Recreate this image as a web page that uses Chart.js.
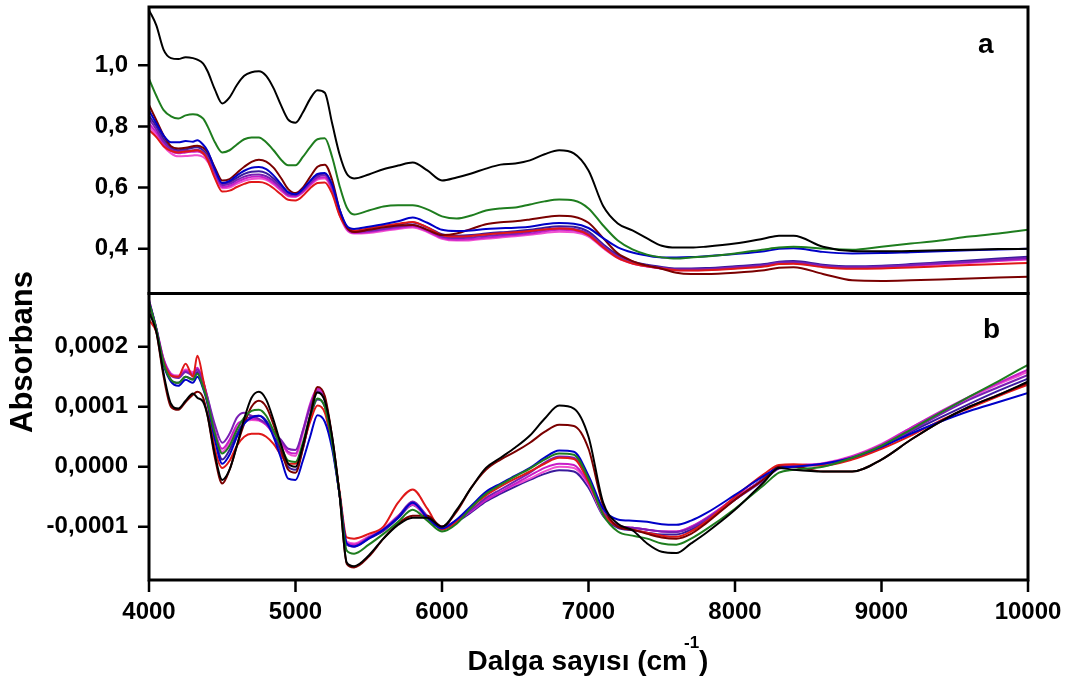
<!DOCTYPE html>
<html>
<head>
<meta charset="utf-8">
<script src="https://cdn.jsdelivr.net/npm/chart.js@4.4.1/dist/chart.umd.min.js"></script>
<style>
  body { margin: 0; background: #fff; }
</style>
</head>
<body>
<canvas id="spectra" width="1068" height="682"></canvas>
<script>
var wavenumbers = [
  4000, 4050, 4100, 4150, 4200, 4250, 4300, 4330, 4370,
  4400, 4450, 4500, 4550, 4600, 4650, 4700, 4750, 4800, 4850, 4900, 4950, 5000, 5050, 5100, 5150, 5200, 5250, 5300, 5350, 5400,
  5500, 5600, 5700, 5800, 5900, 6000, 6100, 6200, 6300, 6400, 6500, 6600,
  6700, 6800, 6900, 7000, 7100, 7200, 7300, 7400, 7500, 7600, 7700, 7800,
  8000, 8200, 8300, 8400, 8600, 8800, 9000, 9200, 9400, 9600, 9800, 10000
];

// panel a - absorbance spectra
var blackA = [
  1.18, 1.13, 1.05, 1.023, 1.02, 1.026, 1.023, 1.018, 1.005,
  0.98, 0.92, 0.875, 0.895, 0.935, 0.965, 0.977, 0.98, 0.965, 0.925, 0.87, 0.822, 0.812, 0.845, 0.89, 0.918, 0.91, 0.81, 0.71, 0.645, 0.63,
  0.643, 0.66, 0.672, 0.682, 0.656, 0.623, 0.633, 0.646, 0.662, 0.675, 0.679, 0.689,
  0.709, 0.722, 0.712, 0.656, 0.54, 0.483, 0.46, 0.434, 0.41, 0.404, 0.404, 0.407,
  0.417, 0.434, 0.443, 0.443, 0.407, 0.393, 0.392, 0.393, 0.395, 0.397, 0.399, 0.40
];
var greenA = [
  0.955, 0.90, 0.853, 0.833, 0.826, 0.836, 0.84, 0.838, 0.825,
  0.80, 0.748, 0.715, 0.722, 0.741, 0.758, 0.764, 0.764, 0.748, 0.722, 0.692, 0.673, 0.673, 0.70, 0.732, 0.758, 0.761, 0.70, 0.607, 0.535, 0.512,
  0.525, 0.538, 0.542, 0.542, 0.529, 0.506, 0.499, 0.509, 0.525, 0.532, 0.535, 0.545,
  0.555, 0.561, 0.558, 0.532, 0.476, 0.427, 0.398, 0.381, 0.372, 0.368, 0.372, 0.375,
  0.385, 0.398, 0.404, 0.407, 0.401, 0.397, 0.407, 0.417, 0.427, 0.44, 0.45, 0.462
];
var blueA = [
  0.852, 0.81, 0.77, 0.748, 0.748, 0.752, 0.75, 0.755, 0.74,
  0.72, 0.66, 0.615, 0.622, 0.64, 0.655, 0.665, 0.667, 0.66, 0.64, 0.612, 0.585, 0.578, 0.595, 0.622, 0.645, 0.648, 0.61, 0.53, 0.475, 0.465,
  0.472, 0.48, 0.49, 0.502, 0.485, 0.462, 0.458, 0.46, 0.465, 0.467, 0.469, 0.472,
  0.48, 0.484, 0.482, 0.468, 0.435, 0.405, 0.388, 0.378, 0.372, 0.372, 0.373, 0.376,
  0.383, 0.392, 0.40, 0.402, 0.39, 0.385, 0.386, 0.389, 0.392, 0.395, 0.398, 0.40
];
var maroonA = [
  0.87, 0.82, 0.77, 0.735, 0.728, 0.73, 0.735, 0.737, 0.73,
  0.715, 0.665, 0.623, 0.628, 0.648, 0.668, 0.684, 0.691, 0.685, 0.665, 0.632, 0.595, 0.582, 0.60, 0.635, 0.668, 0.675, 0.625, 0.53, 0.47, 0.455,
  0.462, 0.47, 0.476, 0.478, 0.462, 0.445, 0.45, 0.465, 0.48, 0.487, 0.49, 0.496,
  0.503, 0.508, 0.505, 0.485, 0.435, 0.385, 0.36, 0.345, 0.335, 0.322, 0.318, 0.318,
  0.322, 0.33, 0.338, 0.34, 0.318, 0.297, 0.295, 0.297, 0.30, 0.303, 0.306, 0.309
];
var redA = [
  0.788, 0.765, 0.735, 0.72, 0.715, 0.718, 0.72, 0.722, 0.712,
  0.69, 0.63, 0.587, 0.59, 0.602, 0.612, 0.618, 0.618, 0.613, 0.598, 0.578, 0.56, 0.558, 0.573, 0.598, 0.615, 0.617, 0.58, 0.51, 0.47, 0.46,
  0.467, 0.475, 0.482, 0.488, 0.47, 0.445, 0.44, 0.442, 0.447, 0.451, 0.454, 0.458,
  0.463, 0.466, 0.463, 0.445, 0.405, 0.37, 0.352, 0.343, 0.336, 0.33, 0.329, 0.33,
  0.335, 0.342, 0.35, 0.351, 0.34, 0.335, 0.336, 0.339, 0.343, 0.347, 0.35, 0.354
];
var purpleA = [
  0.825, 0.79, 0.75, 0.725, 0.718, 0.72, 0.722, 0.724, 0.715,
  0.70, 0.65, 0.608, 0.612, 0.625, 0.636, 0.642, 0.643, 0.637, 0.622, 0.60, 0.578, 0.575, 0.59, 0.615, 0.635, 0.64, 0.60, 0.52, 0.47, 0.455,
  0.458, 0.465, 0.472, 0.478, 0.462, 0.44, 0.435, 0.437, 0.442, 0.446, 0.449, 0.455,
  0.462, 0.467, 0.465, 0.45, 0.41, 0.375, 0.355, 0.345, 0.338, 0.333, 0.333, 0.334,
  0.34, 0.347, 0.355, 0.356, 0.345, 0.34, 0.342, 0.347, 0.353, 0.358, 0.364, 0.37
];
var magentaA = [
  0.81, 0.78, 0.742, 0.72, 0.712, 0.715, 0.717, 0.718, 0.71,
  0.695, 0.645, 0.602, 0.606, 0.618, 0.629, 0.635, 0.636, 0.63, 0.615, 0.594, 0.574, 0.571, 0.586, 0.61, 0.63, 0.634, 0.595, 0.515, 0.465, 0.452,
  0.455, 0.462, 0.468, 0.474, 0.458, 0.436, 0.43, 0.432, 0.437, 0.441, 0.445, 0.45,
  0.457, 0.462, 0.46, 0.445, 0.405, 0.372, 0.353, 0.343, 0.336, 0.331, 0.331, 0.332,
  0.338, 0.345, 0.353, 0.354, 0.343, 0.338, 0.34, 0.345, 0.351, 0.356, 0.362, 0.367
];
var pinkA = [
  0.80, 0.77, 0.735, 0.712, 0.702, 0.703, 0.705, 0.706, 0.70,
  0.685, 0.64, 0.598, 0.60, 0.612, 0.622, 0.628, 0.63, 0.625, 0.61, 0.59, 0.572, 0.57, 0.584, 0.607, 0.626, 0.63, 0.59, 0.512, 0.462, 0.45,
  0.452, 0.458, 0.465, 0.47, 0.455, 0.433, 0.427, 0.428, 0.433, 0.437, 0.441, 0.446,
  0.452, 0.456, 0.454, 0.44, 0.402, 0.37, 0.352, 0.342, 0.335, 0.33, 0.33, 0.331,
  0.337, 0.344, 0.352, 0.353, 0.342, 0.337, 0.339, 0.344, 0.349, 0.354, 0.36, 0.365
];
var navyA = [
  0.835, 0.80, 0.758, 0.73, 0.722, 0.725, 0.73, 0.732, 0.722,
  0.705, 0.655, 0.612, 0.617, 0.632, 0.645, 0.652, 0.653, 0.647, 0.63, 0.605, 0.582, 0.577, 0.592, 0.618, 0.64, 0.645, 0.605, 0.525, 0.472, 0.458,
  0.462, 0.47, 0.478, 0.486, 0.47, 0.448, 0.443, 0.445, 0.45, 0.454, 0.457, 0.462,
  0.469, 0.474, 0.472, 0.456, 0.415, 0.38, 0.359, 0.348, 0.341, 0.336, 0.336, 0.337,
  0.343, 0.35, 0.358, 0.36, 0.348, 0.343, 0.345, 0.35, 0.356, 0.362, 0.368, 0.374
];

// panel b - derivative spectra, values in units of 1e-4
var blackB = [
  2.58, 2.25, 1.55, 1.05, 0.97, 1.1, 1.22, 1.15, 1.08,
  0.85, 0.2, -0.22, -0.05, 0.35, 0.8, 1.15, 1.25, 1.12, 0.78, 0.38, 0.05, 0.0, 0.35, 0.85, 1.24, 1.1, 0.5, -0.45, -1.6, -1.66,
  -1.48, -1.2, -0.97, -0.85, -0.85, -1.0, -0.72, -0.35, -0.02, 0.15, 0.32, 0.52,
  0.8, 1.02, 0.97, 0.5, -0.6, -0.95, -1.06, -1.28, -1.42, -1.44, -1.28, -1.11,
  -0.72, -0.25, -0.02, -0.05, -0.08, -0.08, 0.12, 0.45, 0.75, 1.0, 1.2, 1.42
];
var greenB = [
  2.75, 2.3, 1.72, 1.45, 1.4, 1.5, 1.45, 1.55, 1.32,
  1.08, 0.55, 0.22, 0.35, 0.62, 0.82, 0.93, 0.95, 0.85, 0.6, 0.35, 0.1, 0.08, 0.4, 0.85, 1.14, 1.0, 0.4, -0.45, -1.4, -1.45,
  -1.3, -1.12, -0.92, -0.72, -0.9, -1.08, -0.95, -0.68, -0.45, -0.3, -0.16, -0.03,
  0.12, 0.22, 0.2, -0.2, -0.8, -1.08, -1.15, -1.2, -1.28, -1.3, -1.2, -1.05,
  -0.7, -0.3, -0.1, -0.05, 0.0, 0.15, 0.35, 0.62, 0.9, 1.17, 1.43, 1.7
];
var blueB = [
  2.75, 2.3, 1.7, 1.42, 1.35, 1.45, 1.4, 1.5, 1.3,
  1.05, 0.45, 0.05, 0.2, 0.5, 0.72, 0.82, 0.85, 0.75, 0.5, 0.15, -0.2, -0.22, 0.1, 0.5, 0.86, 0.75, 0.3, -0.45, -1.28, -1.33,
  -1.2, -1.05, -0.85, -0.6, -0.85, -1.03, -0.88, -0.65, -0.42, -0.28, -0.15, -0.02,
  0.15, 0.27, 0.25, -0.15, -0.7, -0.88, -0.9, -0.92, -0.96, -0.97, -0.9, -0.78,
  -0.47, -0.15, -0.02, 0.0, 0.05, 0.15, 0.33, 0.55, 0.75, 0.93, 1.08, 1.23
];
var maroonB = [
  2.72, 2.25, 1.5, 1.0, 0.95, 1.08, 1.2, 1.25, 1.15,
  0.85, 0.15, -0.28, -0.05, 0.35, 0.72, 1.0, 1.1, 1.0, 0.7, 0.3, -0.05, -0.1, 0.3, 0.85, 1.33, 1.18, 0.5, -0.45, -1.62, -1.68,
  -1.5, -1.2, -0.95, -0.82, -0.82, -1.0, -0.75, -0.35, -0.05, 0.12, 0.25, 0.4,
  0.58, 0.7, 0.68, 0.3, -0.65, -1.0, -1.05, -1.12, -1.18, -1.2, -1.12, -0.95,
  -0.55, -0.2, 0.0, 0.0, -0.08, -0.08, 0.12, 0.45, 0.75, 1.0, 1.2, 1.4
];
var redB = [
  2.45, 2.25, 1.75, 1.52, 1.5, 1.72, 1.5, 1.85, 1.45,
  1.05, 0.3, -0.02, 0.1, 0.35, 0.5, 0.55, 0.55, 0.5, 0.38, 0.2, 0.05, 0.05, 0.35, 0.75, 1.02, 0.9, 0.35, -0.4, -1.18, -1.2,
  -1.12, -1.0, -0.6, -0.38, -0.7, -1.05, -0.92, -0.68, -0.48, -0.33, -0.2, -0.08,
  0.05, 0.15, 0.13, -0.25, -0.78, -1.0, -1.05, -1.1, -1.15, -1.17, -1.08, -0.92,
  -0.5, -0.12, 0.03, 0.04, 0.02, 0.12, 0.3, 0.52, 0.77, 0.98, 1.18, 1.37
];
var purpleB = [
  2.78, 2.3, 1.78, 1.52, 1.48, 1.58, 1.52, 1.62, 1.4,
  1.15, 0.7, 0.4, 0.55, 0.82, 0.9, 0.85, 0.8, 0.72, 0.58, 0.45, 0.3, 0.28, 0.6, 1.0, 1.26, 1.1, 0.45, -0.45, -1.3, -1.33,
  -1.18, -1.05, -0.83, -0.58, -0.82, -1.0, -0.9, -0.72, -0.52, -0.38, -0.24, -0.1,
  0.07, 0.17, 0.15, -0.22, -0.75, -0.98, -1.02, -1.05, -1.08, -1.09, -1.02, -0.88,
  -0.55, -0.22, -0.03, 0.0, 0.04, 0.15, 0.33, 0.6, 0.87, 1.12, 1.33, 1.53
];
var magentaB = [
  2.78, 2.32, 1.8, 1.55, 1.5, 1.6, 1.55, 1.65, 1.42,
  1.15, 0.6, 0.3, 0.45, 0.7, 0.78, 0.8, 0.78, 0.7, 0.55, 0.42, 0.25, 0.22, 0.6, 1.05, 1.3, 1.15, 0.45, -0.45, -1.28, -1.3,
  -1.18, -1.05, -0.83, -0.62, -0.85, -1.0, -0.9, -0.74, -0.56, -0.42, -0.28, -0.15,
  -0.02, 0.05, 0.03, -0.28, -0.78, -0.98, -1.02, -1.05, -1.08, -1.08, -1.0, -0.86,
  -0.52, -0.2, -0.02, 0.02, 0.05, 0.17, 0.37, 0.65, 0.92, 1.17, 1.4, 1.62
];
var pinkB = [
  2.75, 2.3, 1.78, 1.55, 1.52, 1.62, 1.58, 1.62, 1.42,
  1.12, 0.55, 0.25, 0.4, 0.65, 0.75, 0.78, 0.77, 0.7, 0.55, 0.4, 0.22, 0.18, 0.55, 1.0, 1.28, 1.13, 0.45, -0.45, -1.25, -1.28,
  -1.16, -1.03, -0.82, -0.63, -0.86, -1.0, -0.9, -0.73, -0.55, -0.42, -0.3, -0.2,
  -0.08, 0.0, -0.02, -0.3, -0.8, -0.98, -1.02, -1.05, -1.08, -1.08, -1.0, -0.87,
  -0.52, -0.2, -0.02, 0.02, 0.06, 0.18, 0.38, 0.65, 0.9, 1.15, 1.38, 1.58
];
var navyB = [
  2.75, 2.28, 1.72, 1.45, 1.4, 1.5, 1.46, 1.58, 1.35,
  1.08, 0.5, 0.12, 0.28, 0.55, 0.75, 0.84, 0.85, 0.77, 0.55, 0.25, 0.0, -0.05, 0.3, 0.8, 1.12, 1.0, 0.4, -0.45, -1.3, -1.33,
  -1.2, -1.07, -0.86, -0.64, -0.86, -1.03, -0.92, -0.76, -0.58, -0.45, -0.33, -0.22,
  -0.12, -0.06, -0.08, -0.35, -0.82, -1.02, -1.06, -1.1, -1.13, -1.13, -1.05, -0.9,
  -0.55, -0.18, 0.0, 0.02, 0.05, 0.15, 0.33, 0.58, 0.82, 1.05, 1.27, 1.47
];

var lineColors = ["#000000", "#1e7d1e", "#0000c8", "#7a0000", "#e01818", "#7a1fb4", "#c81ec8", "#f050d0", "#3a1a9c"];
var panelA = [blackA, greenA, blueA, maroonA, redA, purpleA, magentaA, pinkA, navyA];
var panelB = [blackB, greenB, blueB, maroonB, redB, purpleB, magentaB, pinkB, navyB];

var FONT = "'Liberation Sans', Arial, Helvetica, sans-serif";
var tickFont = { family: FONT, size: 24, weight: 'bold', lineHeight: 1 };

function toPoints(values) {
  return wavenumbers.map(function (x, i) {
    return { x: x, y: values[i] };
  });
}

function lineSet(values, color, axis) {
  return {
    data: toPoints(values),
    xAxisID: 'x',
    yAxisID: axis,
    borderColor: color,
    borderWidth: 2,
    pointRadius: 0,
    fill: false,
    cubicInterpolationMode: 'monotone'
  };
}

var datasets = [];
panelA.forEach(function (values, i) { datasets.push(lineSet(values, lineColors[i], 'yA')); });
panelB.forEach(function (values, i) { datasets.push(lineSet(values, lineColors[i], 'yB')); });

function noPadding(scale) {
  scale.paddingTop = 0;
  scale.paddingBottom = 0;
  scale.paddingLeft = 0;
  scale.paddingRight = 0;
}

// frames, outward tick marks, panel letters and axis titles
var decorations = {
  id: 'decorations',
  afterDraw: function (chart) {
    var ctx = chart.ctx;
    var area = chart.chartArea;
    var xs = chart.scales.x;
    ctx.save();
    ctx.strokeStyle = '#000';
    ctx.fillStyle = '#000';

    ctx.lineWidth = 2.5;
    ctx.beginPath();
    ['yA', 'yB'].forEach(function (id) {
      var s = chart.scales[id];
      s.ticks.forEach(function (t) {
        var y = s.getPixelForValue(t.value);
        var len = t.label ? 11 : 6;
        ctx.moveTo(area.left - len, y);
        ctx.lineTo(area.left, y);
      });
    });
    xs.ticks.forEach(function (t) {
      var x = xs.getPixelForValue(t.value);
      var len = t.label ? 12 : 7;
      ctx.moveTo(x, area.bottom);
      ctx.lineTo(x, area.bottom + len);
    });
    ctx.stroke();

    ctx.lineWidth = 3;
    ['yA', 'yB'].forEach(function (id) {
      var s = chart.scales[id];
      ctx.strokeRect(area.left, s.top, area.right - area.left, s.bottom - s.top);
    });

    ctx.font = 'bold 28px ' + FONT;
    ctx.textAlign = 'left';
    ctx.textBaseline = 'alphabetic';
    ctx.fillText('a', area.right - 50, chart.scales.yA.top + 46);
    ctx.fillText('b', area.right - 45, chart.scales.yB.top + 44);

    ctx.save();
    ctx.font = 'bold 31px ' + FONT;
    ctx.translate(32, 352);
    ctx.rotate(-Math.PI / 2);
    ctx.textAlign = 'center';
    ctx.fillText('Absorbans', 0, 0);
    ctx.restore();

    var main = 'Dalga sayısı (cm', sup = '-1', tail = ')';
    ctx.font = 'bold 28px ' + FONT;
    var w1 = ctx.measureText(main).width;
    var w3 = ctx.measureText(tail).width;
    ctx.font = 'bold 17px ' + FONT;
    var w2 = ctx.measureText(sup).width;
    var x0 = 588 - (w1 + w2 - 3 + w3) / 2;
    var base = 670;
    ctx.font = 'bold 28px ' + FONT;
    ctx.fillText(main, x0, base);
    ctx.font = 'bold 17px ' + FONT;
    ctx.fillText(sup, x0 + w1 - 3, base - 22);
    ctx.font = 'bold 28px ' + FONT;
    ctx.fillText(tail, x0 + w1 + w2 - 3, base);
    ctx.restore();
  }
};

new Chart("spectra", {
  type: "line",
  data: { datasets: datasets },
  plugins: [decorations],
  options: {
    responsive: false,
    animation: false,
    layout: { padding: { top: 7, right: 40, left: 0, bottom: 0 } },
    plugins: {
      legend: { display: false },
      tooltip: { enabled: false }
    },
    scales: {
      x: {
        type: 'linear',
        position: 'bottom',
        min: 4000,
        max: 10000,
        grid: { display: false, drawTicks: false },
        border: { display: false },
        ticks: {
          stepSize: 500,
          maxTicksLimit: 20,
          autoSkip: false,
          maxRotation: 0,
          padding: 20,
          color: '#000',
          font: tickFont,
          callback: function (v) { return v % 1000 === 0 ? String(v) : null; }
        },
        afterFit: function (s) { s.height = 102; noPadding(s); }
      },
      // the lower panel is listed first: the stack places it at the bottom
      yB: {
        type: 'linear',
        position: 'left',
        stack: 'panels',
        stackWeight: 1,
        min: -1.89,
        max: 2.89,
        grid: { display: false, drawTicks: false },
        border: { display: false },
        ticks: {
          stepSize: 0.5,
          maxTicksLimit: 20,
          includeBounds: false,
          autoSkip: false,
          padding: 21,
          color: '#000',
          font: tickFont,
          callback: function (v) {
            var n = Math.round(v * 2);
            if (n % 2 !== 0) return null;
            var val = n / 2;
            if (val === 0) return '0,0000';
            return (val / 10000).toFixed(4).replace('.', ',');
          }
        },
        afterFit: function (s) { s.width = 149; noPadding(s); }
      },
      yA: {
        type: 'linear',
        position: 'left',
        stack: 'panels',
        stackWeight: 1,
        min: 0.254,
        max: 1.19,
        grid: { display: false, drawTicks: false },
        border: { display: false },
        ticks: {
          stepSize: 0.1,
          maxTicksLimit: 20,
          includeBounds: false,
          autoSkip: false,
          padding: 21,
          color: '#000',
          font: tickFont,
          callback: function (v) {
            return Math.round(v * 10) % 2 === 0 ? v.toFixed(1).replace('.', ',') : null;
          }
        },
        afterFit: function (s) { s.width = 149; noPadding(s); }
      }
    }
  }
});
</script>
</body>
</html>
